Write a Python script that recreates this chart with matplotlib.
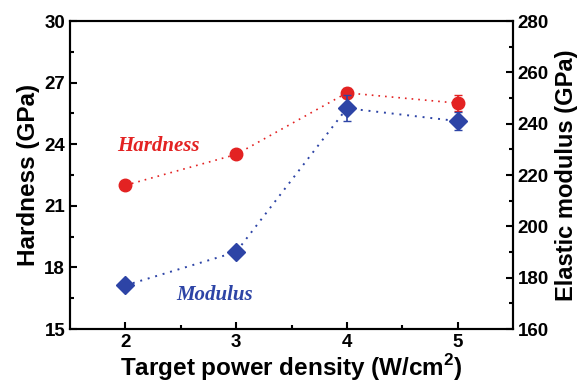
import numpy as np
import matplotlib.pyplot as plt

plt.rcParams['font.family'] = ['Liberation Sans', 'DejaVu Sans']
plt.rcParams['font.weight'] = 'bold'
plt.rcParams['axes.labelweight'] = 'bold'
plt.rcParams['mathtext.fontset'] = 'custom'
plt.rcParams['mathtext.bf'] = 'Liberation Sans:bold'

# Data
power = [2, 3, 4, 5]
hardness = [22.0, 23.5, 26.5, 26.0]
hardness_err = [0.0, 0.0, 0.25, 0.4]
modulus = [177, 190, 246, 241]
modulus_err = [0, 0, 5, 3.5]

red = '#e32222'
blue = '#2d44a6'

fig = plt.figure(figsize=(5.83, 3.84), dpi=100)
ax = fig.add_axes([70/583, 1 - 329/384, (513-70)/583, (329-21)/384])
ax2 = ax.twinx()

ax.errorbar(power, hardness, yerr=hardness_err, color=red, ls=(0, (1, 3)), lw=1.2,
            marker='o', ms=9, mec=red, mfc=red, capsize=3, elinewidth=1.2)
ax2.errorbar(power, modulus, yerr=modulus_err, color=blue, ls=(0, (1, 3)), lw=1.4,
             marker='D', ms=9, mec=blue, mfc=blue, capsize=3, elinewidth=1.2)

ax.set_xlim(1.5, 5.5)
ax.set_ylim(15, 30)
ax2.set_ylim(160, 280)
ax.set_xticks([2, 3, 4, 5])
ax.set_xticks([2.5, 3.5, 4.5], minor=True)
ax.set_yticks(np.arange(15, 31, 3))
ax.set_yticks(np.arange(16.5, 30, 3), minor=True)
ax2.set_yticks(np.arange(160, 281, 20))
ax2.set_yticks(np.arange(170, 280, 20), minor=True)

for a in (ax, ax2):
    a.tick_params(which='both', direction='in', width=1.5, labelsize=13.5, top=False)
    a.tick_params(which='major', length=5)
    a.tick_params(which='minor', length=3)
    for s in a.spines.values():
        s.set_linewidth(1.5)
ax.tick_params(axis='y', right=False)
ax2.tick_params(axis='x', bottom=False)

ax.set_xlabel('Target power density (W/cm$^\\mathbf{2}$)', fontsize=17.5, fontweight='bold', labelpad=1)
ax.set_ylabel('Hardness (GPa)', fontsize=17.5, fontweight='bold', labelpad=3)
ax2.set_ylabel('Elastic modulus (GPa)', fontsize=17, fontweight='bold', labelpad=4)

ax.text(2.30, 23.9, 'Hardness', color=red, fontsize=15, fontweight='bold',
        style='italic', family='Liberation Serif', ha='center', va='center')
ax2.text(2.81, 173.2, 'Modulus', color=blue, fontsize=15, fontweight='bold',
         style='italic', family='Liberation Serif', ha='center', va='center')

fig.savefig('out.png', dpi=100)
